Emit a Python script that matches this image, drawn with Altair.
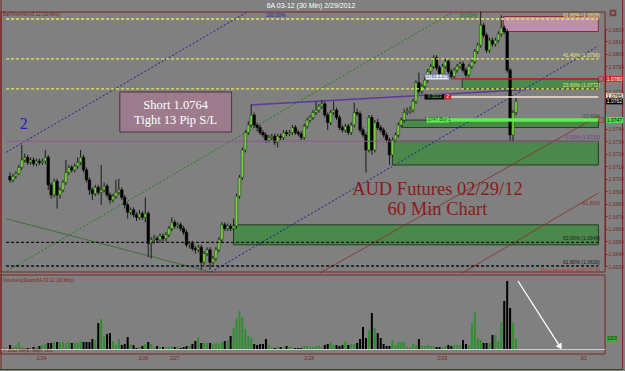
import altair as alt
import pandas as pd

# ---------------- data (prices in pips: 10763 -> 1.0763) ----------------
first_open = 10702
close_pips = [
    10699, 10702, 10704, 10709, 10715, 10717, 10713, 10715, 10712, 10714,
    10713, 10714, 10717, 10695, 10687, 10698, 10687, 10691, 10697, 10705,
    10709, 10707, 10710, 10713, 10717, 10707, 10699, 10691, 10688, 10693,
    10689, 10691, 10694, 10687, 10683, 10686, 10689, 10691, 10685, 10679,
    10673, 10675, 10671, 10669, 10672, 10669, 10672, 10648, 10651, 10652,
    10651, 10654, 10652, 10655, 10660, 10665, 10662, 10663, 10660, 10657,
    10647, 10648, 10644, 10643, 10645, 10633, 10640, 10643, 10633, 10636,
    10643, 10651, 10663, 10660, 10662, 10660, 10662, 10686, 10701, 10723,
    10737, 10743, 10751, 10743, 10741, 10737, 10735, 10731, 10733, 10734,
    10729, 10734, 10733, 10737, 10736, 10737, 10741, 10737, 10736, 10733,
    10742, 10747, 10749, 10753, 10755, 10758, 10760, 10751, 10745, 10753,
    10755, 10749, 10741, 10739, 10742, 10737, 10743, 10753, 10752, 10739,
    10735, 10723, 10749, 10723, 10745, 10741, 10739, 10735, 10731, 10719,
    10731, 10735, 10743, 10747, 10753, 10754, 10755, 10762, 10777, 10770,
    10774, 10779, 10786, 10790, 10797, 10789, 10784, 10790, 10794, 10786,
    10782, 10787, 10790, 10792, 10787, 10783, 10790, 10794, 10802, 10807,
    10823, 10815, 10803, 10811, 10808, 10811, 10816, 10821, 10818, 10787,
    10735, 10753, 10762]
high_pips = [
    10705, 10704, 10706, 10711, 10727, 10720, 10719, 10717, 10717, 10716,
    10716, 10716, 10723, 10719, 10697, 10700, 10700, 10693, 10699, 10715,
    10711, 10711, 10712, 10717, 10723, 10719, 10709, 10701, 10693, 10695,
    10695, 10711, 10697, 10696, 10689, 10688, 10699, 10700, 10693, 10687,
    10681, 10677, 10677, 10673, 10675, 10674, 10685, 10674, 10653, 10655,
    10654, 10656, 10656, 10657, 10662, 10669, 10667, 10665, 10665, 10662,
    10659, 10650, 10650, 10646, 10647, 10647, 10642, 10645, 10645, 10638,
    10645, 10653, 10665, 10665, 10664, 10664, 10668, 10688, 10703, 10725,
    10739, 10746, 10759, 10753, 10745, 10743, 10739, 10737, 10735, 10736,
    10736, 10736, 10736, 10739, 10739, 10739, 10743, 10743, 10739, 10738,
    10744, 10749, 10751, 10755, 10762, 10760, 10763, 10762, 10753, 10755,
    10762, 10757, 10751, 10743, 10744, 10744, 10745, 10761, 10756, 10754,
    10741, 10737, 10751, 10751, 10747, 10748, 10743, 10741, 10737, 10733,
    10733, 10737, 10745, 10749, 10756, 10757, 10758, 10764, 10779, 10785,
    10776, 10781, 10788, 10792, 10799, 10799, 10791, 10792, 10796, 10796,
    10788, 10789, 10792, 10794, 10794, 10789, 10792, 10796, 10804, 10809,
    10834, 10825, 10817, 10813, 10813, 10813, 10818, 10831, 10823, 10820,
    10789, 10755, 10765]
low_pips = [
    10697, 10697, 10700, 10703, 10707, 10713, 10711, 10711, 10710, 10710,
    10711, 10711, 10712, 10691, 10684, 10685, 10676, 10684, 10689, 10695,
    10703, 10705, 10705, 10708, 10711, 10705, 10697, 10687, 10683, 10686,
    10687, 10679, 10689, 10685, 10680, 10681, 10684, 10687, 10683, 10676,
    10668, 10671, 10669, 10666, 10667, 10667, 10665, 10637, 10636, 10648,
    10649, 10649, 10650, 10650, 10653, 10658, 10660, 10660, 10658, 10655,
    10645, 10644, 10642, 10640, 10641, 10627, 10631, 10638, 10627, 10631,
    10634, 10641, 10649, 10658, 10658, 10658, 10658, 10660, 10684, 10699,
    10721, 10735, 10741, 10741, 10738, 10735, 10733, 10729, 10729, 10731,
    10727, 10725, 10731, 10731, 10734, 10734, 10735, 10735, 10734, 10731,
    10731, 10740, 10745, 10747, 10751, 10753, 10756, 10749, 10739, 10743,
    10751, 10747, 10739, 10737, 10737, 10735, 10735, 10741, 10750, 10737,
    10733, 10705, 10721, 10719, 10721, 10739, 10737, 10733, 10729, 10711,
    10717, 10729, 10733, 10741, 10745, 10751, 10752, 10753, 10760, 10768,
    10768, 10772, 10777, 10784, 10788, 10787, 10782, 10782, 10788, 10784,
    10780, 10780, 10785, 10788, 10785, 10781, 10781, 10788, 10792, 10800,
    10805, 10813, 10801, 10801, 10806, 10806, 10809, 10814, 10816, 10785,
    10730, 10730, 10751]
volume = [
    1280, 640, 960, 2240, 640, 320, 320, 320, 640,
    640, 960, 1280, 1600, 1920, 1920, 2240, 2240, 2240, 2240, 1920, 2240,
    1920,
    1920, 1920, 2560, 2240, 2240, 2240, 3200, 2880, 8320, 9600,
    4160, 4800, 5120, 2560, 1280, 3200, 1280, 1600, 3840, 1600,
    1280, 320, 640, 960, 1600, 2240, 1600, 640, 960, 640,
    640, 640, 640, 960, 640, 640, 320, 640, 960, 960,
    1600, 2560, 3840, 1920, 1920, 1920, 1920, 1600, 1920, 1600,
    2240, 2560, 2880, 4160, 6720, 9920, 12160, 10240, 6400, 4160,
    3520, 1600, 1280, 1600, 1600, 3200, 1280, 640, 320, 960,
    640, 640, 960, 640, 640, 320, 320, 320, 960, 960,
    640, 640, 960, 1280, 640, 1280, 1600, 2240, 1280, 1280,
    960, 1280, 2560, 1280, 1600, 1600, 1920, 3200, 7040, 3520,
    6080, 11520, 6720, 5120, 3520, 1600, 960, 960, 2880, 1280,
    2240, 2240, 2240, 640, 640,
    1600, 1280, 3200, 960, 960, 1280, 960, 960, 640, 640,
    640, 960, 1280, 960, 1280, 1280, 1280, 2880, 1600, 1280,
    8320, 11840, 3520, 2880, 1920, 1920, 1920, 4480, 4480, 2560,
    8640, 15360, 21760, 13120, 8320, 3203]

date_labels = ["2/24", "2/26", "2/27", "2/28", "2/29", "3/1"]
date_bar = [10.67, 45.33, 56.0, 101.67, 147.0, 195.0]

# axis labels that are not covered by the price markers
price_ticks = [1.0630, 1.0640, 1.0650, 1.0660, 1.0670, 1.0680, 1.0690, 1.0700,
               1.0710, 1.0720, 1.0730, 1.0740, 1.0770,
               1.0790, 1.0800, 1.0810, 1.0820]

# zones (supply / demand boxes)
zone_x1 = [76.0, 130.0, 133.3, 153.7, 167.7]
zone_x2 = [200.0, 200.0, 200.0, 200.0, 200.0]
zone_top = [1.0663, 1.0730, 1.0747, 1.0780, 1.0830]
zone_bot = [1.0647, 1.0711, 1.0741, 1.0772, 1.0818]
zone_fill = ["#4b884b", "#4b884b", "#4b884b", "#4b884b", "#bd8fae"]
zone_stroke = ["#1f3f1f", "#1f3f1f", "#1f3f1f", "#1f3f1f", "#8b2a3a"]

# horizontal levels
dash_price = [1.0828, 1.0796, 1.0772, 1.0649, 1.0630]
dash_color = ["#e8e85a", "#e8e85a", "#e8e85a", "#111111", "#111111"]
solid_x1 = [-1.33, 150.0, 141.7, 141.7]
solid_price = [1.0730, 1.0780, 1.07655, 1.0747]
solid_color = ["#8a5a8a", "#c42222", "#f4e6d2", "#5cf04c"]
solid_width = [1.0, 1.2, 1.5, 3.5]

# diagonal lines (channels / trend lines)
diag_x1 = [-1.33, 68.33, -1.0, -1.33, 81.67, 105.33, 153.67]
diag_p1 = [1.07211, 1.06251, 1.06260, 1.06679, 1.07591, 1.06243, 1.06243]
diag_x2 = [80.67, 200.0, 150.67, 68.33, 178.33, 200.0, 200.0]
diag_p2 = [1.08337, 1.08064, 1.08337, 1.06251, 1.07719, 1.07502, 1.06885]
diag_color = ["#1c1c9c", "#1c1c9c", "#1f7a1f", "#2e6b2e", "#5a3a9a", "#8a2a2a", "#8a2a2a"]
diag_dash = ["dot", "dot", "dot", "solid", "solid", "solid", "solid"]
diag_width = [1.0, 1.0, 1.0, 0.8, 1.5, 0.8, 0.8]

# level labels near the right edge
fib_text = ["61.80% (1.0828)", "41.40% (1.0796)", "23.60% (1.0772)", "0.00% (1.0730)",
            "-23.60%", "50.00% (1.0649)", "61.80% (1.0630)", "-61.80%"]
fib_price = [1.0828, 1.0796, 1.0772, 1.0730, 1.0747, 1.0649, 1.0630, 1.0677]
fib_color = ["#e8e87a", "#e8e87a", "#e8e87a", "#6a3a8a", "#2a5a2a", "#1a1a1a", "#1a1a1a", "#8b2a2a"]

# price markers on the axis
mk_price = [1.0780, 1.0766, 1.0762, 1.0747]
mk_text = ["1.0780", "1.0765", "1.0762", "1.0747"]
mk_fill = ["#d02828", "#f0dcc4", "#000000", "#52e052"]
mk_tcolor = ["#ffffff", "#000000", "#ffffff", "#000000"]

# tags on the order lines
tag_bar = [145.2, 144.3, 148.8, 145.3]
tag_price = [1.07815, 1.07655, 1.07655, 1.0747]
tag_size = [23, 20, 7, 22]
tag_fill = ["#e6e6ee", "#000000", "#d02828", "#5cf04c"]
tag_text = ["1.0783 1.0780", "0.0003", "2", "1.0747 Buy 1"]
tag_tcolor = ["#3050a0", "#7fdc6f", "#ffffff", "#1a4a1a"]

# text annotations
note_lines = ["Short 1.0764", "Tight 13 Pip S/L"]
note_bar = [56.3, 56.3]
note_price = [1.07591, 1.07470]
note_box = {"x1": 37.33, "x2": 75.33, "top": 1.07695, "bot": 1.07374}
title_lines = ["AUD Futures 02/29/12", "60 Min Chart"]
title_bar = [145.3, 145.3]
title_price = [1.06917, 1.06757]
wave_label = ["2"]
wave_bar = [4.67]
wave_price = [1.07438]
arrow_bar = [172.67, 187.0]
arrow_vol = [21760, 700]

# ---------------- frame ----------------
FONT = "Liberation Sans"
SERIF = "Liberation Serif"
MAROON = "#7a2424"
W, H = 605, 354

XS = alt.Scale(domain=[0, 172], range=[5, 521], nice=False, zero=False)
YS = alt.Scale(domain=[1.0630, 1.0820], range=[266, 29], nice=False, zero=False)
VS = alt.Scale(domain=[0, 21760], range=[349, 281], nice=False, zero=False)


def X(f):
    return alt.X(f + ":Q", scale=XS, axis=None)


def Y(f):
    return alt.Y(f + ":Q", scale=YS, axis=None)


one = pd.DataFrame({"k": [0]})

n = len(close_pips)
open_pips = [first_open] + close_pips[:-1]
ohlc = pd.DataFrame({
    "bar": list(range(n)),
    "open": [p / 10000 for p in open_pips],
    "close": [p / 10000 for p in close_pips],
    "high": [p / 10000 for p in high_pips],
    "low": [p / 10000 for p in low_pips],
    "volume": volume,
})
up = "datum.close >= datum.open"

zones = pd.DataFrame({"x1": zone_x1, "x2": zone_x2, "top": zone_top, "bot": zone_bot,
                      "fill": zone_fill, "stroke": zone_stroke})
dashes = pd.DataFrame({"x1": [-1.33] * len(dash_price), "x2": [200.0] * len(dash_price),
                       "price": dash_price, "color": dash_color})
solids = pd.DataFrame({"x1": solid_x1, "x2": [200.0] * len(solid_price), "price": solid_price,
                       "color": solid_color, "w": solid_width})
diag = pd.DataFrame({"x1": diag_x1, "p1": diag_p1, "x2": diag_x2, "p2": diag_p2,
                     "color": diag_color, "dash": diag_dash, "w": diag_width})

layers = []

# zones
layers.append(alt.Chart(zones).mark_rect(strokeWidth=1).encode(
    x=X("x1"), x2="x2", y=Y("top"), y2="bot",
    fill=alt.Fill("fill:N", scale=None), stroke=alt.Stroke("stroke:N", scale=None)))

# panel frames
for (x1, x2, y1, y2) in [(1, 605, 12, 272), (1, 605, 275, 354)]:
    layers.append(alt.Chart(one).mark_rect(fillOpacity=0, stroke=MAROON, strokeWidth=1).encode(
        x=alt.value(x1), x2=alt.value(x2), y=alt.value(y1), y2=alt.value(y2)))
layers.append(alt.Chart(one).mark_rule(color=MAROON, strokeWidth=1).encode(
    x=alt.value(0), x2=alt.value(623), y=alt.value(369.5)))
layers.append(alt.Chart(one).mark_rule(color=MAROON, strokeWidth=1).encode(
    x=alt.value(622.5), y=alt.value(0), y2=alt.value(370)))
layers.append(alt.Chart(one).mark_rule(color=MAROON, strokeWidth=1).encode(
    x=alt.value(1), y=alt.value(0), y2=alt.value(370)))

# diagonal lines
dot = diag[diag.dash == "dot"]
sol = diag[diag.dash == "solid"]
layers.append(alt.Chart(dot).mark_rule(strokeDash=[2, 2]).encode(
    x=X("x1"), x2="x2", y=Y("p1"), y2="p2",
    color=alt.Color("color:N", scale=None), strokeWidth=alt.StrokeWidth("w:Q", scale=None)))
layers.append(alt.Chart(sol).mark_rule().encode(
    x=X("x1"), x2="x2", y=Y("p1"), y2="p2",
    color=alt.Color("color:N", scale=None), strokeWidth=alt.StrokeWidth("w:Q", scale=None)))

# candles
price_axis = alt.Axis(orient="right", values=price_ticks, format=".4f", title="",
                      labelFontSize=5, labelFont=FONT, labelColor=MAROON, tickColor=MAROON,
                      tickSize=2, domainColor=MAROON, grid=False, labelPadding=1)
layers.append(alt.Chart(ohlc).mark_rule(color="#1a1a1a", strokeWidth=1).encode(
    x=X("bar"), y=alt.Y("low:Q", scale=YS, axis=price_axis), y2="high:Q"))
layers.append(alt.Chart(ohlc).mark_bar(size=2.6, strokeWidth=0.5).encode(
    x=X("bar"), y=Y("open"), y2="close",
    color=alt.condition(up, alt.value("#74d13f"), alt.value("#000000")),
    stroke=alt.condition(up, alt.value("#1d3a12"), alt.value("#000000"))))

# horizontal levels (drawn over bars)
layers.append(alt.Chart(dashes).mark_rule(strokeDash=[3, 2], strokeWidth=1.3).encode(
    x=X("x1"), x2="x2", y=Y("price"), color=alt.Color("color:N", scale=None)))
layers.append(alt.Chart(solids).mark_rule().encode(
    x=X("x1"), x2="x2", y=Y("price"), color=alt.Color("color:N", scale=None),
    strokeWidth=alt.StrokeWidth("w:Q", scale=None)))

# volume
layers.append(alt.Chart(one).mark_rule(color="#d0d0d0", strokeWidth=1).encode(
    x=alt.value(1), x2=alt.value(605), y=alt.value(349.5)))
layers.append(alt.Chart(ohlc).mark_bar(size=2).encode(
    x=X("bar"), y=alt.Y("volume:Q", scale=VS, axis=None),
    color=alt.condition(up, alt.value("#2f8f2f"), alt.value("#000000"))))

# arrow in volume panel
arrow = pd.DataFrame({"b1": [arrow_bar[0]], "b2": [arrow_bar[1]], "v1": [arrow_vol[0]], "v2": [arrow_vol[1]]})
layers.append(alt.Chart(arrow).mark_rule(color="#ffffff", strokeWidth=1.3).encode(
    x=X("b1"), x2="b2", y=alt.Y("v1:Q", scale=VS, axis=None), y2="v2"))
layers.append(alt.Chart(arrow).mark_point(shape="triangle-down", filled=True, color="#ffffff",
                                          size=45, angle=327, opacity=1).encode(
    x=X("b2"), y=alt.Y("v2:Q", scale=VS, axis=None)))

# note box
nb = pd.DataFrame([note_box])
layers.append(alt.Chart(nb).mark_rect(fill="#9c7b8d", stroke="#4a3242", strokeWidth=1).encode(
    x=X("x1"), x2="x2", y=Y("top"), y2="bot"))
layers.append(alt.Chart(pd.DataFrame({"t": note_lines, "b": note_bar, "p": note_price})).mark_text(
    font=SERIF, fontSize=12.5, color="#ffffff", baseline="middle").encode(
    x=X("b"), y=Y("p"), text="t:N"))
layers.append(alt.Chart(pd.DataFrame({"t": title_lines, "b": title_bar, "p": title_price})).mark_text(
    font=SERIF, fontSize=18.5, color="#8b1a1a", baseline="middle").encode(
    x=X("b"), y=Y("p"), text="t:N"))
layers.append(alt.Chart(pd.DataFrame({"t": wave_label, "b": wave_bar, "p": wave_price})).mark_text(
    font=SERIF, fontSize=16, color="#1c1cc8", baseline="middle").encode(
    x=X("b"), y=Y("p"), text="t:N"))

# level labels
layers.append(alt.Chart(pd.DataFrame({"t": fib_text, "p": fib_price, "c": fib_color})).mark_text(
    font=FONT, fontSize=5, align="right", baseline="bottom", dy=-1).encode(
    x=alt.value(600), y=Y("p"), text="t:N", color=alt.Color("c:N", scale=None)))
layers.append(alt.Chart(pd.DataFrame({"t": ["100.00%", "50.00%"], "b": [87.0, 153.0],
                                      "c": ["#1c1c9c", "#1f7a1f"]})).mark_text(
    font=FONT, fontSize=5, align="left", baseline="middle").encode(
    x=X("b"), y=alt.value(14.5), text="t:N", color=alt.Color("c:N", scale=None)))

# order tags
tags = pd.DataFrame({"b": tag_bar, "p": tag_price, "s": tag_size, "f": tag_fill,
                     "t": tag_text, "c": tag_tcolor})
layers.append(alt.Chart(tags).mark_tick(orient="horizontal", thickness=5, opacity=1).encode(
    x=X("b"), y=Y("p"), size=alt.Size("s:Q", scale=None), color=alt.Color("f:N", scale=None)))
layers.append(alt.Chart(tags).mark_text(font=FONT, fontSize=4.5, baseline="middle").encode(
    x=X("b"), y=Y("p"), text="t:N", color=alt.Color("c:N", scale=None)))

# axis markers
mk = pd.DataFrame({"p": mk_price, "t": mk_text, "f": mk_fill, "c": mk_tcolor})
layers.append(alt.Chart(mk).mark_tick(orient="horizontal", thickness=6, size=17, opacity=1).encode(
    x=alt.value(614.5), y=Y("p"), color=alt.Color("f:N", scale=None)))
layers.append(alt.Chart(mk).mark_text(font=FONT, fontSize=5, baseline="middle").encode(
    x=alt.value(614.5), y=Y("p"), text="t:N", color=alt.Color("c:N", scale=None)))
layers.append(alt.Chart(pd.DataFrame({"p": [1.0780, 1.0747]})).mark_point(
    shape="square", size=22, filled=False, color="#c02020", strokeWidth=1).encode(
    x=alt.value(601), y=Y("p")))
layers.append(alt.Chart(one).mark_point(shape="square", size=22, filled=False, color=MAROON).encode(
    x=alt.value(613), y=alt.value(13)))

# volume marker
vm = pd.DataFrame({"v": [volume[-1]], "t": [str(volume[-1])]})
layers.append(alt.Chart(vm).mark_tick(orient="horizontal", thickness=6, size=12, color="#3fae3f",
                                      opacity=1).encode(
    x=alt.value(612), y=alt.Y("v:Q", scale=VS, axis=None)))
layers.append(alt.Chart(vm).mark_text(font=FONT, fontSize=4.5, color="#0a2a0a", baseline="middle").encode(
    x=alt.value(612), y=alt.Y("v:Q", scale=VS, axis=None), text="t:N"))

# dates
layers.append(alt.Chart(pd.DataFrame({"t": date_labels, "b": date_bar})).mark_text(
    font=FONT, fontSize=5, color=MAROON, baseline="middle").encode(
    x=X("b"), y=alt.value(358), text="t:N"))

# small texts
small = [
    ("6A 03-12 (30 Min)  2/29/2012", 311, 6, 7, "#ffffff", "center"),
    ("BarTimer(6A 03-12 (30 Min))", 3, 14.5, 4.5, MAROON, "left"),
    ("VolumeUpDown(6A 03-12 (30 Min))", 3, 281, 4.5, MAROON, "left"),
    ("\u00a9 2012 NinjaTrader, LLC", 3, 351, 4.5, MAROON, "left"),
    ("Time remaining = 00:02:39", 600, 269.5, 5, "#c83030", "right"),
]
for (t, x, y, fs, c, al) in small:
    layers.append(alt.Chart(pd.DataFrame({"t": [t]})).mark_text(
        font=FONT, fontSize=fs, color=c, align=al, baseline="middle").encode(
        x=alt.value(x), y=alt.value(y), text="t:N"))

chart = alt.layer(*layers).resolve_scale(y="independent").properties(
    width=W, height=H,
    padding={"left": 0, "top": 0, "right": 20, "bottom": 17},
    autosize=alt.AutoSizeParams(type="none"),
    background="#808080",
).configure_view(strokeWidth=0)

chart.save("out.html", embed_options={"renderer": "svg", "actions": False})
